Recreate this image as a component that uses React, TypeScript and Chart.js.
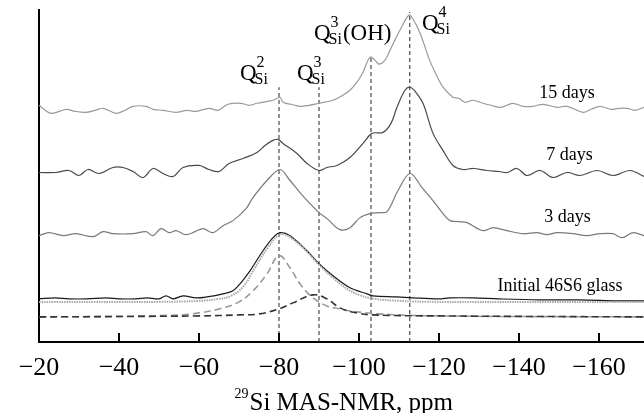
import React, { useEffect, useRef } from "react";
import { Chart, registerables } from "chart.js";
Chart.register(...registerables);

// x axis: chemical shift, ppm (reversed)
const xTickValues = [-20, -40, -60, -80, -100, -120, -140, -160];
const xLeft = -20;
const xRight = -171.25;
const yTop = 331;

// spectra: [ppm, intensity (a.u., stacked)]
const days15: [number, number][] = [
  [-20, 236], [-23, 228], [-26.75, 232], [-29, 230], [-31.75, 229], [-34, 231], [-36, 233], [-39.25, 228],
  [-41.5, 231], [-43.5, 235], [-46.75, 235], [-48.5, 232], [-51, 231], [-54.25, 229], [-57, 231], [-59.25, 230],
  [-62.5, 233], [-64.75, 231], [-67.25, 237], [-70.5, 238], [-72.5, 236], [-74.5, 238], [-78.5, 241], [-80.25, 244],
  [-81, 239], [-83, 237], [-85.25, 235], [-87.5, 236], [-90, 238], [-93.5, 241], [-95.5, 245], [-97.75, 251],
  [-99.5, 259], [-101, 269], [-102.75, 284], [-104, 281], [-105, 277], [-106.5, 281], [-107.75, 291], [-110.25, 311],
  [-112.5, 326], [-113.5, 322], [-115.25, 308], [-117.75, 280], [-119.5, 265], [-121, 254], [-123.5, 244], [-125, 243],
  [-126.5, 239], [-128.5, 241], [-131, 238], [-133, 236], [-135.25, 234], [-137, 236], [-138.5, 238], [-141, 235],
  [-143.5, 235], [-146, 237], [-149.5, 234], [-152, 235], [-156, 229], [-158, 232], [-160.25, 235], [-163, 232],
  [-165, 233], [-167, 233], [-169, 231], [-171.25, 234],
];

const days7: [number, number][] = [
  [-20, 169], [-24.25, 169], [-27.5, 171], [-30, 166], [-32.25, 172], [-35, 168], [-38.5, 174], [-41, 174],
  [-43.5, 170], [-46, 164], [-48.5, 173], [-51, 168], [-53.5, 165], [-56, 174], [-60, 176], [-62.5, 172],
  [-65, 170], [-67.5, 178], [-71, 183], [-74.5, 189], [-76.5, 196], [-78.5, 201], [-79.75, 202], [-81, 198],
  [-84.5, 188], [-87, 178], [-90, 171], [-92, 174], [-94.5, 176], [-97.75, 184], [-101, 198], [-103.25, 208],
  [-106, 209], [-108, 218], [-109.5, 234], [-111.5, 251], [-112.75, 254], [-114, 250], [-116, 238], [-118.5, 208],
  [-121, 191], [-123.5, 176], [-126, 172], [-128.5, 173], [-132, 171], [-135, 170], [-137, 169], [-139.5, 173],
  [-142, 166], [-145.25, 171], [-148.5, 164], [-152, 169], [-155.25, 166], [-159.5, 171], [-163.5, 166],
  [-167.75, 171], [-171.25, 165],
];

const days3: [number, number][] = [
  [-20, 106], [-22.5, 109], [-26, 106], [-29.25, 108], [-33.5, 105], [-36, 110], [-38.5, 108], [-43.5, 108],
  [-46.75, 110], [-48.5, 106], [-50.5, 113], [-52.5, 109], [-54.25, 111], [-56.75, 107], [-59, 110], [-61, 113],
  [-63.5, 109], [-66, 116], [-68.5, 121], [-71.75, 133], [-73.5, 144], [-77, 161], [-80.25, 172], [-82.75, 161],
  [-85.25, 149], [-87.5, 139], [-90, 129], [-92, 123], [-95.25, 112], [-97.75, 114], [-100.25, 124], [-102.75, 128],
  [-105, 129], [-107, 130], [-109.75, 151], [-112.75, 168], [-115.75, 154], [-118.5, 141], [-121, 128], [-122.75, 121],
  [-125, 120], [-127, 119], [-131, 111], [-133.5, 114], [-137, 111], [-141, 108], [-144.5, 109], [-147, 107],
  [-149.5, 109], [-153.5, 108], [-157, 106], [-160.25, 108], [-163.5, 108], [-165.75, 104], [-168.5, 109],
  [-171.25, 106],
];

const initialGlass: [number, number][] = [
  [-20, 43], [-24, 44], [-27.5, 43], [-32, 43], [-36.75, 44], [-40, 43], [-44.25, 43], [-47, 44],
  [-50, 43], [-51.75, 46], [-53.5, 43], [-56, 46], [-59.25, 44], [-62, 45], [-66, 48], [-68.5, 51],
  [-70.25, 58], [-72.75, 71], [-76, 91], [-78.5, 104], [-80.25, 109], [-82.75, 106], [-87, 91], [-90, 78],
  [-93.5, 66], [-97.75, 54], [-102, 48], [-103.5, 46], [-109.5, 45], [-113.5, 44], [-120, 43], [-122.75, 44],
  [-128.5, 44], [-135, 43], [-145.25, 42], [-155, 42], [-165, 41], [-171.25, 41],
];

const fitSum: [number, number][] = [
  [-20, 40], [-40, 40], [-50, 40], [-60, 41], [-65, 43], [-68, 46], [-71, 55], [-74, 74], [-77, 93],
  [-80, 107], [-81.5, 107], [-84, 101], [-87, 90], [-90, 77], [-93.5, 64], [-97, 53], [-100, 47],
  [-104, 43], [-110, 41], [-120, 40], [-171.25, 40],
];

const fitQ2: [number, number][] = [
  [-20, 25], [-40, 25.5], [-55, 27], [-60, 29], [-65, 33], [-70, 40], [-73.5, 51], [-77, 68], [-80, 86],
  [-82.75, 74], [-85.25, 58], [-88.5, 44], [-92, 36], [-95.25, 33], [-97.75, 31], [-105, 28], [-120, 26],
  [-171.25, 25],
];

const fitQ3: [number, number][] = [
  [-20, 25], [-60, 26], [-70, 27], [-75, 28], [-80, 33], [-83.5, 39], [-88.5, 47], [-92, 43], [-95.25, 34],
  [-99.5, 29], [-103.5, 27], [-120, 26], [-171.25, 25],
];

// reference lines at the Q-species shifts
const peakShifts = [-80, -90, -103, -112.7];
const peakLineTops = [254, 254, 286, 329];

const qSup = ["2", "3", "3", "4"];
const qTail = ["", "", "(OH)", ""];
const qAnchorPpm = [-70.25, -84.5, -88.75, -115.75];
const qAnchorVal = [261, 261, 301, 311];

const traceLabels = ["15 days", "7 days", "3 days", "Initial 46S6 glass"];
const traceLabelPpm = [-152, -152.6, -152.1, -150.25];
const traceLabelVal = [243, 181, 120, 51];

const SERIF = '"Liberation Serif", "Times New Roman", serif';

const toXY = (arr: [number, number][]) => arr.map(([x, y]) => ({ x, y }));

const annotations = {
  id: "annotations",
  afterDraw(chart: any) {
    const { ctx, chartArea, scales } = chart;
    const sx = scales.x;
    const sy = scales.y;
    ctx.save();
    // inward tick marks
    ctx.strokeStyle = "#000";
    ctx.lineWidth = 2;
    sx.ticks.forEach((t: any) => {
      const px = Math.round(sx.getPixelForValue(t.value));
      ctx.beginPath();
      ctx.moveTo(px, chartArea.bottom);
      ctx.lineTo(px, chartArea.bottom - 9);
      ctx.stroke();
    });
    ctx.fillStyle = "#000";
    ctx.textBaseline = "alphabetic";
    // Q labels
    for (let i = 0; i < qSup.length; i++) {
      const x = sx.getPixelForValue(qAnchorPpm[i]);
      const y = sy.getPixelForValue(qAnchorVal[i]);
      ctx.textAlign = "left";
      ctx.font = `23px ${SERIF}`;
      ctx.fillText("Q", x, y);
      const qw = ctx.measureText("Q").width;
      ctx.font = `16px ${SERIF}`;
      ctx.fillText(qSup[i], x + qw, y - 13);
      ctx.fillText("Si", x + qw - 2, y + 4);
      const sw = ctx.measureText("Si").width;
      if (qTail[i]) {
        ctx.font = `23px ${SERIF}`;
        ctx.fillText(qTail[i], x + qw - 2 + sw + 1, y);
      }
    }
    // trace labels
    ctx.font = `18px ${SERIF}`;
    ctx.textAlign = "center";
    for (let i = 0; i < traceLabels.length; i++) {
      ctx.fillText(traceLabels[i], sx.getPixelForValue(traceLabelPpm[i]), sy.getPixelForValue(traceLabelVal[i]));
    }
    // axis title
    ctx.textAlign = "left";
    const tx = (chartArea.left + chartArea.right) / 2 - 107;
    const ty = chartArea.bottom + 68;
    ctx.font = `14px ${SERIF}`;
    ctx.fillText("29", tx, ty - 12);
    const w29 = ctx.measureText("29").width;
    ctx.font = `25px ${SERIF}`;
    ctx.fillText("Si MAS-NMR, ppm", tx + w29 + 1, ty);
    ctx.restore();
  },
};

export default function App() {
  const ref = useRef<HTMLCanvasElement | null>(null);
  useEffect(() => {
    if (!ref.current) return;
    const lineDs = (data: [number, number][], color: string, width: number, dash: number[] = [], tension = 0.35) => ({
      data: toXY(data),
      borderColor: color,
      borderWidth: width,
      borderDash: dash,
      pointRadius: 0,
      tension,
      fill: false,
    });
    const vLines = peakShifts.map((p, i) => ({
      data: [
        { x: p, y: 0 },
        { x: p, y: peakLineTops[i] },
      ],
      borderColor: "#222",
      borderWidth: 1,
      borderDash: [4, 3],
      pointRadius: 0,
      tension: 0,
      fill: false,
    }));
    const chart = new Chart(ref.current, {
      type: "line",
      data: {
        datasets: [
          lineDs(fitQ3, "#333", 1.6, [7, 4], 0.4),
          lineDs(fitQ2, "#9a9a9a", 1.6, [7, 4], 0.4),
          lineDs(fitSum, "#a8a8a8", 2, [1.5, 1], 0.4),
          lineDs(initialGlass, "#1a1a1a", 1.2),
          lineDs(days3, "#7a7a7a", 1.2),
          lineDs(days7, "#4a4a4a", 1.2),
          lineDs(days15, "#9a9a9a", 1.2),
          ...vLines,
        ] as any,
      },
      options: {
        animation: false,
        responsive: false,
        devicePixelRatio: 1,
        layout: { padding: { left: 39, top: 10, right: 0, bottom: 19 } },
        plugins: { legend: { display: false }, tooltip: { enabled: false } },
        scales: {
          x: {
            type: "linear",
            reverse: true,
            min: xRight,
            max: xLeft,
            afterBuildTicks: (axis: any) => {
              axis.ticks = xTickValues.map((v) => ({ value: v }));
            },
            grid: { display: false, drawTicks: false },
            border: { display: true, color: "#000", width: 2 },
            ticks: {
              autoSkip: false,
              maxRotation: 0,
              padding: 13,
              color: "#000",
              font: { family: SERIF, size: 26, lineHeight: 1 },
              callback: (v: any) => "\u2212" + Math.abs(Number(v)),
            },
          },
          y: {
            type: "linear",
            min: 0,
            max: yTop,
            grid: { display: false, drawTicks: false },
            border: { display: true, color: "#000", width: 2 },
            ticks: { display: false },
          },
        },
      },
      plugins: [annotations],
    });
    return () => chart.destroy();
  }, []);
  return (
    <div style={{ position: "fixed", left: 0, top: 0, width: 644, height: 413, background: "#fff" }}>
      <canvas ref={ref} width={644} height={413} style={{ width: 644, height: 413, display: "block" }} />
    </div>
  );
}
